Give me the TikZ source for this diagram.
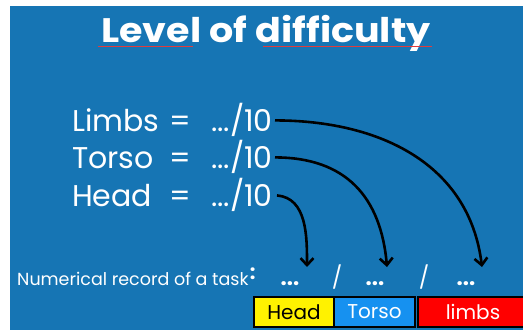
\documentclass[tikz,border=0pt]{standalone}
\usepackage{fontspec}
\setmainfont{Poppins}
\usetikzlibrary{arrows.meta}
\definecolor{bg}{RGB}{22,117,180}
\definecolor{tblue}{RGB}{22,145,240}
\definecolor{squig}{RGB}{225,60,60}
\begin{document}
\begin{tikzpicture}[x=1pt,y=1pt,
  txt/.style={text=white, inner sep=0pt, font=\fontsize{30}{30}\selectfont},
  arr/.style={line width=2.6pt, -{Straight Barb[length=7pt,width=13pt]}},
  lab/.style={draw=black, line width=1.8pt, minimum height=30pt, inner sep=0pt, font=\fontsize{20}{20}\selectfont},
  small/.style={text=white, inner sep=0pt, font=\fontsize{17.5}{17.5}\selectfont},
  rec/.style={text=white, inner sep=0pt, font=\bfseries\fontsize{22}{22}\selectfont},
  slash/.style={text=white, inner sep=0pt, font=\fontsize{22}{22}\selectfont}]
\useasboundingbox (0,0) rectangle (523,330);
\begin{scope}
\clip (0,0) rectangle (523,330);
\fill[white] (0,0) rectangle (523,330);
\fill[bg] (10,0) rectangle (523,324);
% title
\node[text=white, inner sep=0pt, anchor=base, font=\bfseries\fontsize{34}{34}\selectfont] (title) at (266,287) {\scalebox{1.12}[1]{Level of difficulty}};
\draw[squig, line width=0.7pt] (98,283.5) -- (193,283.5) (263,283.5) -- (432,283.5);
% rows
\node[txt, anchor=base west] (limb) at (72,198) {Limbs};
\node[txt, anchor=base] (eq1) at (180,198) {=};
\node[txt, anchor=base east] (limv) at (273,198) {.../10};
\node[txt, anchor=base west] (tors) at (72,161) {Torso};
\node[txt, anchor=base] (eq2) at (180,161) {=};
\node[txt, anchor=base east] (torv) at (273,161) {.../10};
\node[txt, anchor=base west] (head) at (72,123) {Head};
\node[txt, anchor=base] (eq3) at (180,123) {=};
\node[txt, anchor=base east] (heav) at (273,123) {.../10};
% record line
\node[small, anchor=base west] (numrec) at (17,45) {Numerical record of a task};
\node[small, anchor=base west, font=\bfseries\fontsize{20}{20}\selectfont] (colon) at (numrec.base east) [yshift=6pt, xshift=1pt] {:};
\node[rec, anchor=base] (d1) at (290,45) {...};
\node[slash, anchor=base] (s1) at (337,45) {/};
\node[rec, anchor=base] (d2) at (375,45) {...};
\node[slash, anchor=base] (s2) at (424,45) {/};
\node[rec, anchor=base] (d3) at (466,45) {...};
\coordinate (tH) at (307,63);
\coordinate (tT) at (387,63);
\coordinate (tL) at (482,63);
% arrows
\draw[arr] ([xshift=2pt]limv.east) to[out=0,in=97,looseness=1.05] (tL);
\draw[arr] ([xshift=2pt]torv.east) to[out=0,in=95,looseness=1.15] (tT);
\draw[arr] ([xshift=4pt]heav.east) to[out=-5,in=90,looseness=1] (tH);
% boxes
\node[lab, fill=yellow, text=black, minimum width=80pt] (bH) at (294,18) {Head};
\node[lab, fill=tblue, text=white, minimum width=81pt] (bT) at (374.5,18) {Torso};
\node[lab, fill=red, text=white, minimum width=110pt] (bL) at (473,18) {limbs};
\end{scope}
\end{tikzpicture}
\end{document}
